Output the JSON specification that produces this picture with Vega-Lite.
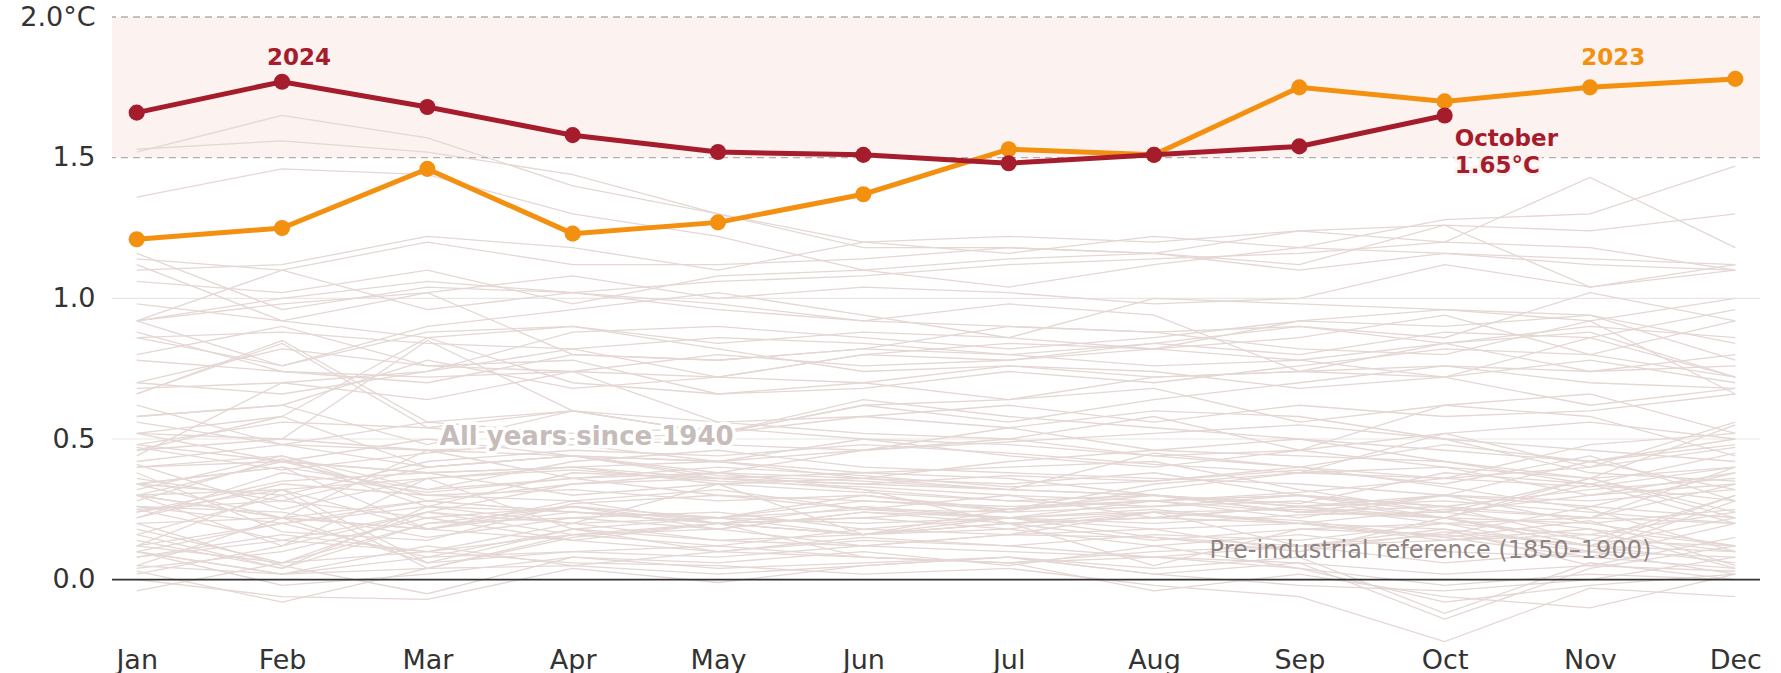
{
"$schema": "https://vega.github.io/schema/vega-lite/v6.json",
"width": 1648, "height": 633,
"autosize": "none",
"padding": {"left": 112, "top": 17, "right": 21, "bottom": 23},
"background": "white",
"config": {"view": {"stroke": null}, "font": "DejaVu Sans"},
"datasets": {
"bg": [
{"yr":1940,"m":1,"t":0.22},{"yr":1940,"m":2,"t":0.38},{"yr":1940,"m":3,"t":0.31},{"yr":1940,"m":4,"t":0.36},{"yr":1940,"m":5,"t":0.40},{"yr":1940,"m":6,"t":0.37},{"yr":1940,"m":7,"t":0.33},{"yr":1940,"m":8,"t":0.35},{"yr":1940,"m":9,"t":0.39},{"yr":1940,"m":10,"t":0.34},{"yr":1940,"m":11,"t":0.44},{"yr":1940,"m":12,"t":0.28},
{"yr":1941,"m":1,"t":0.34},{"yr":1941,"m":2,"t":0.30},{"yr":1941,"m":3,"t":0.42},{"yr":1941,"m":4,"t":0.46},{"yr":1941,"m":5,"t":0.44},{"yr":1941,"m":6,"t":0.48},{"yr":1941,"m":7,"t":0.45},{"yr":1941,"m":8,"t":0.41},{"yr":1941,"m":9,"t":0.38},{"yr":1941,"m":10,"t":0.52},{"yr":1941,"m":11,"t":0.40},{"yr":1941,"m":12,"t":0.47},
{"yr":1942,"m":1,"t":0.41},{"yr":1942,"m":2,"t":0.25},{"yr":1942,"m":3,"t":0.36},{"yr":1942,"m":4,"t":0.39},{"yr":1942,"m":5,"t":0.35},{"yr":1942,"m":6,"t":0.33},{"yr":1942,"m":7,"t":0.30},{"yr":1942,"m":8,"t":0.28},{"yr":1942,"m":9,"t":0.31},{"yr":1942,"m":10,"t":0.36},{"yr":1942,"m":11,"t":0.33},{"yr":1942,"m":12,"t":0.40},
{"yr":1943,"m":1,"t":0.28},{"yr":1943,"m":2,"t":0.43},{"yr":1943,"m":3,"t":0.26},{"yr":1943,"m":4,"t":0.38},{"yr":1943,"m":5,"t":0.36},{"yr":1943,"m":6,"t":0.34},{"yr":1943,"m":7,"t":0.37},{"yr":1943,"m":8,"t":0.35},{"yr":1943,"m":9,"t":0.40},{"yr":1943,"m":10,"t":0.48},{"yr":1943,"m":11,"t":0.42},{"yr":1943,"m":12,"t":0.50},
{"yr":1944,"m":1,"t":0.47},{"yr":1944,"m":2,"t":0.39},{"yr":1944,"m":3,"t":0.45},{"yr":1944,"m":4,"t":0.50},{"yr":1944,"m":5,"t":0.48},{"yr":1944,"m":6,"t":0.46},{"yr":1944,"m":7,"t":0.49},{"yr":1944,"m":8,"t":0.52},{"yr":1944,"m":9,"t":0.55},{"yr":1944,"m":10,"t":0.50},{"yr":1944,"m":11,"t":0.38},{"yr":1944,"m":12,"t":0.35},
{"yr":1945,"m":1,"t":0.36},{"yr":1945,"m":2,"t":0.28},{"yr":1945,"m":3,"t":0.40},{"yr":1945,"m":4,"t":0.44},{"yr":1945,"m":5,"t":0.37},{"yr":1945,"m":6,"t":0.35},{"yr":1945,"m":7,"t":0.32},{"yr":1945,"m":8,"t":0.45},{"yr":1945,"m":9,"t":0.40},{"yr":1945,"m":10,"t":0.33},{"yr":1945,"m":11,"t":0.25},{"yr":1945,"m":12,"t":0.10},
{"yr":1946,"m":1,"t":0.30},{"yr":1946,"m":2,"t":0.22},{"yr":1946,"m":3,"t":0.18},{"yr":1946,"m":4,"t":0.28},{"yr":1946,"m":5,"t":0.20},{"yr":1946,"m":6,"t":0.16},{"yr":1946,"m":7,"t":0.22},{"yr":1946,"m":8,"t":0.18},{"yr":1946,"m":9,"t":0.20},{"yr":1946,"m":10,"t":0.15},{"yr":1946,"m":11,"t":0.21},{"yr":1946,"m":12,"t":0.05},
{"yr":1947,"m":1,"t":0.12},{"yr":1947,"m":2,"t":0.20},{"yr":1947,"m":3,"t":0.26},{"yr":1947,"m":4,"t":0.24},{"yr":1947,"m":5,"t":0.22},{"yr":1947,"m":6,"t":0.28},{"yr":1947,"m":7,"t":0.25},{"yr":1947,"m":8,"t":0.30},{"yr":1947,"m":9,"t":0.27},{"yr":1947,"m":10,"t":0.38},{"yr":1947,"m":11,"t":0.34},{"yr":1947,"m":12,"t":0.20},
{"yr":1948,"m":1,"t":0.38},{"yr":1948,"m":2,"t":0.17},{"yr":1948,"m":3,"t":0.14},{"yr":1948,"m":4,"t":0.27},{"yr":1948,"m":5,"t":0.30},{"yr":1948,"m":6,"t":0.25},{"yr":1948,"m":7,"t":0.22},{"yr":1948,"m":8,"t":0.20},{"yr":1948,"m":9,"t":0.23},{"yr":1948,"m":10,"t":0.24},{"yr":1948,"m":11,"t":0.18},{"yr":1948,"m":12,"t":0.12},
{"yr":1949,"m":1,"t":0.26},{"yr":1949,"m":2,"t":0.24},{"yr":1949,"m":3,"t":0.15},{"yr":1949,"m":4,"t":0.22},{"yr":1949,"m":5,"t":0.18},{"yr":1949,"m":6,"t":0.12},{"yr":1949,"m":7,"t":0.16},{"yr":1949,"m":8,"t":0.15},{"yr":1949,"m":9,"t":0.10},{"yr":1949,"m":10,"t":0.17},{"yr":1949,"m":11,"t":0.12},{"yr":1949,"m":12,"t":0.06},
{"yr":1950,"m":1,"t":0.04},{"yr":1950,"m":2,"t":0.10},{"yr":1950,"m":3,"t":0.22},{"yr":1950,"m":4,"t":0.14},{"yr":1950,"m":5,"t":0.10},{"yr":1950,"m":6,"t":0.15},{"yr":1950,"m":7,"t":0.12},{"yr":1950,"m":8,"t":0.08},{"yr":1950,"m":9,"t":0.06},{"yr":1950,"m":10,"t":0.02},{"yr":1950,"m":11,"t":0.05},{"yr":1950,"m":12,"t":0.03},
{"yr":1951,"m":1,"t":0.10},{"yr":1951,"m":2,"t":0.02},{"yr":1951,"m":3,"t":0.04},{"yr":1951,"m":4,"t":0.16},{"yr":1951,"m":5,"t":0.20},{"yr":1951,"m":6,"t":0.22},{"yr":1951,"m":7,"t":0.25},{"yr":1951,"m":8,"t":0.28},{"yr":1951,"m":9,"t":0.30},{"yr":1951,"m":10,"t":0.26},{"yr":1951,"m":11,"t":0.22},{"yr":1951,"m":12,"t":0.34},
{"yr":1952,"m":1,"t":0.30},{"yr":1952,"m":2,"t":0.32},{"yr":1952,"m":3,"t":0.18},{"yr":1952,"m":4,"t":0.24},{"yr":1952,"m":5,"t":0.22},{"yr":1952,"m":6,"t":0.20},{"yr":1952,"m":7,"t":0.22},{"yr":1952,"m":8,"t":0.24},{"yr":1952,"m":9,"t":0.21},{"yr":1952,"m":10,"t":0.15},{"yr":1952,"m":11,"t":0.08},{"yr":1952,"m":12,"t":0.20},
{"yr":1953,"m":1,"t":0.24},{"yr":1953,"m":2,"t":0.35},{"yr":1953,"m":3,"t":0.38},{"yr":1953,"m":4,"t":0.30},{"yr":1953,"m":5,"t":0.34},{"yr":1953,"m":6,"t":0.31},{"yr":1953,"m":7,"t":0.28},{"yr":1953,"m":8,"t":0.30},{"yr":1953,"m":9,"t":0.26},{"yr":1953,"m":10,"t":0.30},{"yr":1953,"m":11,"t":0.20},{"yr":1953,"m":12,"t":0.25},
{"yr":1954,"m":1,"t":0.05},{"yr":1954,"m":2,"t":0.22},{"yr":1954,"m":3,"t":0.06},{"yr":1954,"m":4,"t":0.10},{"yr":1954,"m":5,"t":0.08},{"yr":1954,"m":6,"t":0.12},{"yr":1954,"m":7,"t":0.10},{"yr":1954,"m":8,"t":0.08},{"yr":1954,"m":9,"t":0.12},{"yr":1954,"m":10,"t":0.14},{"yr":1954,"m":11,"t":0.18},{"yr":1954,"m":12,"t":0.04},
{"yr":1955,"m":1,"t":0.20},{"yr":1955,"m":2,"t":0.05},{"yr":1955,"m":3,"t":-0.05},{"yr":1955,"m":4,"t":0.08},{"yr":1955,"m":5,"t":0.06},{"yr":1955,"m":6,"t":0.10},{"yr":1955,"m":7,"t":0.05},{"yr":1955,"m":8,"t":0.12},{"yr":1955,"m":9,"t":0.04},{"yr":1955,"m":10,"t":-0.08},{"yr":1955,"m":11,"t":-0.02},{"yr":1955,"m":12,"t":0.02},
{"yr":1956,"m":1,"t":0.03},{"yr":1956,"m":2,"t":-0.08},{"yr":1956,"m":3,"t":0.04},{"yr":1956,"m":4,"t":0.05},{"yr":1956,"m":5,"t":0.02},{"yr":1956,"m":6,"t":0.05},{"yr":1956,"m":7,"t":0.08},{"yr":1956,"m":8,"t":0.02},{"yr":1956,"m":9,"t":-0.02},{"yr":1956,"m":10,"t":-0.04},{"yr":1956,"m":11,"t":0.00},{"yr":1956,"m":12,"t":0.08},
{"yr":1957,"m":1,"t":0.08},{"yr":1957,"m":2,"t":0.16},{"yr":1957,"m":3,"t":0.10},{"yr":1957,"m":4,"t":0.20},{"yr":1957,"m":5,"t":0.22},{"yr":1957,"m":6,"t":0.30},{"yr":1957,"m":7,"t":0.25},{"yr":1957,"m":8,"t":0.28},{"yr":1957,"m":9,"t":0.30},{"yr":1957,"m":10,"t":0.26},{"yr":1957,"m":11,"t":0.32},{"yr":1957,"m":12,"t":0.36},
{"yr":1958,"m":1,"t":0.48},{"yr":1958,"m":2,"t":0.42},{"yr":1958,"m":3,"t":0.30},{"yr":1958,"m":4,"t":0.28},{"yr":1958,"m":5,"t":0.32},{"yr":1958,"m":6,"t":0.25},{"yr":1958,"m":7,"t":0.30},{"yr":1958,"m":8,"t":0.22},{"yr":1958,"m":9,"t":0.20},{"yr":1958,"m":10,"t":0.25},{"yr":1958,"m":11,"t":0.22},{"yr":1958,"m":12,"t":0.20},
{"yr":1959,"m":1,"t":0.26},{"yr":1959,"m":2,"t":0.20},{"yr":1959,"m":3,"t":0.28},{"yr":1959,"m":4,"t":0.24},{"yr":1959,"m":5,"t":0.20},{"yr":1959,"m":6,"t":0.26},{"yr":1959,"m":7,"t":0.22},{"yr":1959,"m":8,"t":0.25},{"yr":1959,"m":9,"t":0.20},{"yr":1959,"m":10,"t":0.14},{"yr":1959,"m":11,"t":0.16},{"yr":1959,"m":12,"t":0.24},
{"yr":1960,"m":1,"t":0.16},{"yr":1960,"m":2,"t":0.30},{"yr":1960,"m":3,"t":0.04},{"yr":1960,"m":4,"t":0.15},{"yr":1960,"m":5,"t":0.20},{"yr":1960,"m":6,"t":0.22},{"yr":1960,"m":7,"t":0.18},{"yr":1960,"m":8,"t":0.24},{"yr":1960,"m":9,"t":0.25},{"yr":1960,"m":10,"t":0.22},{"yr":1960,"m":11,"t":0.12},{"yr":1960,"m":12,"t":0.30},
{"yr":1961,"m":1,"t":0.22},{"yr":1961,"m":2,"t":0.34},{"yr":1961,"m":3,"t":0.30},{"yr":1961,"m":4,"t":0.32},{"yr":1961,"m":5,"t":0.28},{"yr":1961,"m":6,"t":0.30},{"yr":1961,"m":7,"t":0.24},{"yr":1961,"m":8,"t":0.26},{"yr":1961,"m":9,"t":0.28},{"yr":1961,"m":10,"t":0.22},{"yr":1961,"m":11,"t":0.20},{"yr":1961,"m":12,"t":0.12},
{"yr":1962,"m":1,"t":0.25},{"yr":1962,"m":2,"t":0.28},{"yr":1962,"m":3,"t":0.22},{"yr":1962,"m":4,"t":0.26},{"yr":1962,"m":5,"t":0.18},{"yr":1962,"m":6,"t":0.24},{"yr":1962,"m":7,"t":0.20},{"yr":1962,"m":8,"t":0.22},{"yr":1962,"m":9,"t":0.26},{"yr":1962,"m":10,"t":0.28},{"yr":1962,"m":11,"t":0.24},{"yr":1962,"m":12,"t":0.20},
{"yr":1963,"m":1,"t":0.12},{"yr":1963,"m":2,"t":0.32},{"yr":1963,"m":3,"t":0.06},{"yr":1963,"m":4,"t":0.18},{"yr":1963,"m":5,"t":0.14},{"yr":1963,"m":6,"t":0.16},{"yr":1963,"m":7,"t":0.25},{"yr":1963,"m":8,"t":0.34},{"yr":1963,"m":9,"t":0.38},{"yr":1963,"m":10,"t":0.40},{"yr":1963,"m":11,"t":0.36},{"yr":1963,"m":12,"t":0.22},
{"yr":1964,"m":1,"t":0.25},{"yr":1964,"m":2,"t":0.14},{"yr":1964,"m":3,"t":0.10},{"yr":1964,"m":4,"t":0.06},{"yr":1964,"m":5,"t":0.05},{"yr":1964,"m":6,"t":0.02},{"yr":1964,"m":7,"t":0.04},{"yr":1964,"m":8,"t":-0.02},{"yr":1964,"m":9,"t":-0.06},{"yr":1964,"m":10,"t":-0.22},{"yr":1964,"m":11,"t":-0.03},{"yr":1964,"m":12,"t":-0.06},
{"yr":1965,"m":1,"t":0.10},{"yr":1965,"m":2,"t":0.02},{"yr":1965,"m":3,"t":0.12},{"yr":1965,"m":4,"t":0.05},{"yr":1965,"m":5,"t":0.10},{"yr":1965,"m":6,"t":0.08},{"yr":1965,"m":7,"t":0.06},{"yr":1965,"m":8,"t":0.10},{"yr":1965,"m":9,"t":0.12},{"yr":1965,"m":10,"t":0.18},{"yr":1965,"m":11,"t":0.05},{"yr":1965,"m":12,"t":0.15},
{"yr":1966,"m":1,"t":0.08},{"yr":1966,"m":2,"t":0.14},{"yr":1966,"m":3,"t":0.24},{"yr":1966,"m":4,"t":0.16},{"yr":1966,"m":5,"t":0.12},{"yr":1966,"m":6,"t":0.18},{"yr":1966,"m":7,"t":0.22},{"yr":1966,"m":8,"t":0.15},{"yr":1966,"m":9,"t":0.12},{"yr":1966,"m":10,"t":0.06},{"yr":1966,"m":11,"t":0.10},{"yr":1966,"m":12,"t":0.08},
{"yr":1967,"m":1,"t":0.14},{"yr":1967,"m":2,"t":0.04},{"yr":1967,"m":3,"t":0.26},{"yr":1967,"m":4,"t":0.20},{"yr":1967,"m":5,"t":0.14},{"yr":1967,"m":6,"t":0.12},{"yr":1967,"m":7,"t":0.16},{"yr":1967,"m":8,"t":0.18},{"yr":1967,"m":9,"t":0.10},{"yr":1967,"m":10,"t":0.22},{"yr":1967,"m":11,"t":0.14},{"yr":1967,"m":12,"t":0.12},
{"yr":1968,"m":1,"t":0.02},{"yr":1968,"m":2,"t":0.12},{"yr":1968,"m":3,"t":0.36},{"yr":1968,"m":4,"t":0.18},{"yr":1968,"m":5,"t":0.10},{"yr":1968,"m":6,"t":0.14},{"yr":1968,"m":7,"t":0.12},{"yr":1968,"m":8,"t":0.16},{"yr":1968,"m":9,"t":0.14},{"yr":1968,"m":10,"t":0.20},{"yr":1968,"m":11,"t":0.16},{"yr":1968,"m":12,"t":0.10},
{"yr":1969,"m":1,"t":0.12},{"yr":1969,"m":2,"t":0.06},{"yr":1969,"m":3,"t":0.24},{"yr":1969,"m":4,"t":0.34},{"yr":1969,"m":5,"t":0.36},{"yr":1969,"m":6,"t":0.32},{"yr":1969,"m":7,"t":0.28},{"yr":1969,"m":8,"t":0.26},{"yr":1969,"m":9,"t":0.30},{"yr":1969,"m":10,"t":0.24},{"yr":1969,"m":11,"t":0.36},{"yr":1969,"m":12,"t":0.40},
{"yr":1970,"m":1,"t":0.34},{"yr":1970,"m":2,"t":0.40},{"yr":1970,"m":3,"t":0.18},{"yr":1970,"m":4,"t":0.26},{"yr":1970,"m":5,"t":0.20},{"yr":1970,"m":6,"t":0.16},{"yr":1970,"m":7,"t":0.18},{"yr":1970,"m":8,"t":0.12},{"yr":1970,"m":9,"t":0.16},{"yr":1970,"m":10,"t":0.10},{"yr":1970,"m":11,"t":0.08},{"yr":1970,"m":12,"t":0.04},
{"yr":1971,"m":1,"t":0.10},{"yr":1971,"m":2,"t":-0.02},{"yr":1971,"m":3,"t":0.02},{"yr":1971,"m":4,"t":0.08},{"yr":1971,"m":5,"t":0.04},{"yr":1971,"m":6,"t":0.06},{"yr":1971,"m":7,"t":0.08},{"yr":1971,"m":8,"t":0.04},{"yr":1971,"m":9,"t":0.08},{"yr":1971,"m":10,"t":-0.12},{"yr":1971,"m":11,"t":0.06},{"yr":1971,"m":12,"t":0.00},
{"yr":1972,"m":1,"t":-0.04},{"yr":1972,"m":2,"t":0.06},{"yr":1972,"m":3,"t":0.10},{"yr":1972,"m":4,"t":0.16},{"yr":1972,"m":5,"t":0.18},{"yr":1972,"m":6,"t":0.24},{"yr":1972,"m":7,"t":0.22},{"yr":1972,"m":8,"t":0.28},{"yr":1972,"m":9,"t":0.22},{"yr":1972,"m":10,"t":0.30},{"yr":1972,"m":11,"t":0.26},{"yr":1972,"m":12,"t":0.38},
{"yr":1973,"m":1,"t":0.42},{"yr":1973,"m":2,"t":0.48},{"yr":1973,"m":3,"t":0.40},{"yr":1973,"m":4,"t":0.44},{"yr":1973,"m":5,"t":0.38},{"yr":1973,"m":6,"t":0.36},{"yr":1973,"m":7,"t":0.32},{"yr":1973,"m":8,"t":0.30},{"yr":1973,"m":9,"t":0.24},{"yr":1973,"m":10,"t":0.22},{"yr":1973,"m":11,"t":0.12},{"yr":1973,"m":12,"t":0.10},
{"yr":1974,"m":1,"t":0.05},{"yr":1974,"m":2,"t":0.02},{"yr":1974,"m":3,"t":0.08},{"yr":1974,"m":4,"t":0.10},{"yr":1974,"m":5,"t":0.12},{"yr":1974,"m":6,"t":0.08},{"yr":1974,"m":7,"t":0.06},{"yr":1974,"m":8,"t":0.08},{"yr":1974,"m":9,"t":0.04},{"yr":1974,"m":10,"t":-0.02},{"yr":1974,"m":11,"t":0.02},{"yr":1974,"m":12,"t":0.00},
{"yr":1975,"m":1,"t":0.20},{"yr":1975,"m":2,"t":0.22},{"yr":1975,"m":3,"t":0.18},{"yr":1975,"m":4,"t":0.14},{"yr":1975,"m":5,"t":0.20},{"yr":1975,"m":6,"t":0.08},{"yr":1975,"m":7,"t":0.06},{"yr":1975,"m":8,"t":-0.04},{"yr":1975,"m":9,"t":0.02},{"yr":1975,"m":10,"t":-0.06},{"yr":1975,"m":11,"t":-0.10},{"yr":1975,"m":12,"t":0.02},
{"yr":1976,"m":1,"t":0.00},{"yr":1976,"m":2,"t":-0.06},{"yr":1976,"m":3,"t":-0.07},{"yr":1976,"m":4,"t":0.04},{"yr":1976,"m":5,"t":-0.01},{"yr":1976,"m":6,"t":0.05},{"yr":1976,"m":7,"t":0.08},{"yr":1976,"m":8,"t":0.02},{"yr":1976,"m":9,"t":0.06},{"yr":1976,"m":10,"t":-0.14},{"yr":1976,"m":11,"t":0.04},{"yr":1976,"m":12,"t":0.12},
{"yr":1977,"m":1,"t":0.24},{"yr":1977,"m":2,"t":0.32},{"yr":1977,"m":3,"t":0.36},{"yr":1977,"m":4,"t":0.40},{"yr":1977,"m":5,"t":0.42},{"yr":1977,"m":6,"t":0.38},{"yr":1977,"m":7,"t":0.36},{"yr":1977,"m":8,"t":0.30},{"yr":1977,"m":9,"t":0.26},{"yr":1977,"m":10,"t":0.22},{"yr":1977,"m":11,"t":0.34},{"yr":1977,"m":12,"t":0.28},
{"yr":1978,"m":1,"t":0.30},{"yr":1978,"m":2,"t":0.22},{"yr":1978,"m":3,"t":0.28},{"yr":1978,"m":4,"t":0.24},{"yr":1978,"m":5,"t":0.20},{"yr":1978,"m":6,"t":0.16},{"yr":1978,"m":7,"t":0.20},{"yr":1978,"m":8,"t":0.05},{"yr":1978,"m":9,"t":0.18},{"yr":1978,"m":10,"t":0.16},{"yr":1978,"m":11,"t":0.26},{"yr":1978,"m":12,"t":0.22},
{"yr":1979,"m":1,"t":0.16},{"yr":1979,"m":2,"t":0.04},{"yr":1979,"m":3,"t":0.20},{"yr":1979,"m":4,"t":0.26},{"yr":1979,"m":5,"t":0.22},{"yr":1979,"m":6,"t":0.25},{"yr":1979,"m":7,"t":0.24},{"yr":1979,"m":8,"t":0.32},{"yr":1979,"m":9,"t":0.38},{"yr":1979,"m":10,"t":0.36},{"yr":1979,"m":11,"t":0.40},{"yr":1979,"m":12,"t":0.56},
{"yr":1980,"m":1,"t":0.40},{"yr":1980,"m":2,"t":0.44},{"yr":1980,"m":3,"t":0.32},{"yr":1980,"m":4,"t":0.42},{"yr":1980,"m":5,"t":0.46},{"yr":1980,"m":6,"t":0.40},{"yr":1980,"m":7,"t":0.38},{"yr":1980,"m":8,"t":0.36},{"yr":1980,"m":9,"t":0.34},{"yr":1980,"m":10,"t":0.30},{"yr":1980,"m":11,"t":0.42},{"yr":1980,"m":12,"t":0.32},
{"yr":1981,"m":1,"t":0.52},{"yr":1981,"m":2,"t":0.42},{"yr":1981,"m":3,"t":0.50},{"yr":1981,"m":4,"t":0.44},{"yr":1981,"m":5,"t":0.36},{"yr":1981,"m":6,"t":0.38},{"yr":1981,"m":7,"t":0.40},{"yr":1981,"m":8,"t":0.42},{"yr":1981,"m":9,"t":0.32},{"yr":1981,"m":10,"t":0.24},{"yr":1981,"m":11,"t":0.30},{"yr":1981,"m":12,"t":0.38},
{"yr":1982,"m":1,"t":0.10},{"yr":1982,"m":2,"t":0.20},{"yr":1982,"m":3,"t":0.08},{"yr":1982,"m":4,"t":0.18},{"yr":1982,"m":5,"t":0.22},{"yr":1982,"m":6,"t":0.16},{"yr":1982,"m":7,"t":0.20},{"yr":1982,"m":8,"t":0.14},{"yr":1982,"m":9,"t":0.18},{"yr":1982,"m":10,"t":0.20},{"yr":1982,"m":11,"t":0.22},{"yr":1982,"m":12,"t":0.40},
{"yr":1983,"m":1,"t":0.52},{"yr":1983,"m":2,"t":0.50},{"yr":1983,"m":3,"t":0.46},{"yr":1983,"m":4,"t":0.44},{"yr":1983,"m":5,"t":0.42},{"yr":1983,"m":6,"t":0.36},{"yr":1983,"m":7,"t":0.34},{"yr":1983,"m":8,"t":0.38},{"yr":1983,"m":9,"t":0.30},{"yr":1983,"m":10,"t":0.22},{"yr":1983,"m":11,"t":0.36},{"yr":1983,"m":12,"t":0.24},
{"yr":1984,"m":1,"t":0.30},{"yr":1984,"m":2,"t":0.12},{"yr":1984,"m":3,"t":0.24},{"yr":1984,"m":4,"t":0.20},{"yr":1984,"m":5,"t":0.34},{"yr":1984,"m":6,"t":0.16},{"yr":1984,"m":7,"t":0.20},{"yr":1984,"m":8,"t":0.22},{"yr":1984,"m":9,"t":0.26},{"yr":1984,"m":10,"t":0.20},{"yr":1984,"m":11,"t":0.10},{"yr":1984,"m":12,"t":0.02},
{"yr":1985,"m":1,"t":0.18},{"yr":1985,"m":2,"t":0.06},{"yr":1985,"m":3,"t":0.20},{"yr":1985,"m":4,"t":0.22},{"yr":1985,"m":5,"t":0.24},{"yr":1985,"m":6,"t":0.18},{"yr":1985,"m":7,"t":0.16},{"yr":1985,"m":8,"t":0.24},{"yr":1985,"m":9,"t":0.20},{"yr":1985,"m":10,"t":0.18},{"yr":1985,"m":11,"t":0.12},{"yr":1985,"m":12,"t":0.22},
{"yr":1986,"m":1,"t":0.34},{"yr":1986,"m":2,"t":0.40},{"yr":1986,"m":3,"t":0.32},{"yr":1986,"m":4,"t":0.36},{"yr":1986,"m":5,"t":0.30},{"yr":1986,"m":6,"t":0.28},{"yr":1986,"m":7,"t":0.26},{"yr":1986,"m":8,"t":0.28},{"yr":1986,"m":9,"t":0.24},{"yr":1986,"m":10,"t":0.30},{"yr":1986,"m":11,"t":0.28},{"yr":1986,"m":12,"t":0.32},
{"yr":1987,"m":1,"t":0.32},{"yr":1987,"m":2,"t":0.44},{"yr":1987,"m":3,"t":0.28},{"yr":1987,"m":4,"t":0.34},{"yr":1987,"m":5,"t":0.38},{"yr":1987,"m":6,"t":0.46},{"yr":1987,"m":7,"t":0.54},{"yr":1987,"m":8,"t":0.46},{"yr":1987,"m":9,"t":0.50},{"yr":1987,"m":10,"t":0.42},{"yr":1987,"m":11,"t":0.36},{"yr":1987,"m":12,"t":0.55},
{"yr":1988,"m":1,"t":0.62},{"yr":1988,"m":2,"t":0.48},{"yr":1988,"m":3,"t":0.56},{"yr":1988,"m":4,"t":0.52},{"yr":1988,"m":5,"t":0.54},{"yr":1988,"m":6,"t":0.50},{"yr":1988,"m":7,"t":0.48},{"yr":1988,"m":8,"t":0.44},{"yr":1988,"m":9,"t":0.46},{"yr":1988,"m":10,"t":0.40},{"yr":1988,"m":11,"t":0.30},{"yr":1988,"m":12,"t":0.34},
{"yr":1989,"m":1,"t":0.30},{"yr":1989,"m":2,"t":0.42},{"yr":1989,"m":3,"t":0.38},{"yr":1989,"m":4,"t":0.40},{"yr":1989,"m":5,"t":0.34},{"yr":1989,"m":6,"t":0.36},{"yr":1989,"m":7,"t":0.42},{"yr":1989,"m":8,"t":0.46},{"yr":1989,"m":9,"t":0.44},{"yr":1989,"m":10,"t":0.42},{"yr":1989,"m":11,"t":0.34},{"yr":1989,"m":12,"t":0.45},
{"yr":1990,"m":1,"t":0.46},{"yr":1990,"m":2,"t":0.50},{"yr":1990,"m":3,"t":0.85},{"yr":1990,"m":4,"t":0.60},{"yr":1990,"m":5,"t":0.56},{"yr":1990,"m":6,"t":0.52},{"yr":1990,"m":7,"t":0.50},{"yr":1990,"m":8,"t":0.58},{"yr":1990,"m":9,"t":0.46},{"yr":1990,"m":10,"t":0.62},{"yr":1990,"m":11,"t":0.66},{"yr":1990,"m":12,"t":0.52},
{"yr":1991,"m":1,"t":0.58},{"yr":1991,"m":2,"t":0.62},{"yr":1991,"m":3,"t":0.48},{"yr":1991,"m":4,"t":0.60},{"yr":1991,"m":5,"t":0.52},{"yr":1991,"m":6,"t":0.64},{"yr":1991,"m":7,"t":0.58},{"yr":1991,"m":8,"t":0.54},{"yr":1991,"m":9,"t":0.50},{"yr":1991,"m":10,"t":0.46},{"yr":1991,"m":11,"t":0.42},{"yr":1991,"m":12,"t":0.48},
{"yr":1992,"m":1,"t":0.56},{"yr":1992,"m":2,"t":0.48},{"yr":1992,"m":3,"t":0.46},{"yr":1992,"m":4,"t":0.36},{"yr":1992,"m":5,"t":0.38},{"yr":1992,"m":6,"t":0.32},{"yr":1992,"m":7,"t":0.20},{"yr":1992,"m":8,"t":0.24},{"yr":1992,"m":9,"t":0.12},{"yr":1992,"m":10,"t":0.16},{"yr":1992,"m":11,"t":0.10},{"yr":1992,"m":12,"t":0.28},
{"yr":1993,"m":1,"t":0.40},{"yr":1993,"m":2,"t":0.42},{"yr":1993,"m":3,"t":0.38},{"yr":1993,"m":4,"t":0.40},{"yr":1993,"m":5,"t":0.36},{"yr":1993,"m":6,"t":0.34},{"yr":1993,"m":7,"t":0.32},{"yr":1993,"m":8,"t":0.30},{"yr":1993,"m":9,"t":0.24},{"yr":1993,"m":10,"t":0.26},{"yr":1993,"m":11,"t":0.14},{"yr":1993,"m":12,"t":0.30},
{"yr":1994,"m":1,"t":0.34},{"yr":1994,"m":2,"t":0.22},{"yr":1994,"m":3,"t":0.46},{"yr":1994,"m":4,"t":0.48},{"yr":1994,"m":5,"t":0.42},{"yr":1994,"m":6,"t":0.50},{"yr":1994,"m":7,"t":0.44},{"yr":1994,"m":8,"t":0.40},{"yr":1994,"m":9,"t":0.46},{"yr":1994,"m":10,"t":0.52},{"yr":1994,"m":11,"t":0.56},{"yr":1994,"m":12,"t":0.50},
{"yr":1995,"m":1,"t":0.66},{"yr":1995,"m":2,"t":0.85},{"yr":1995,"m":3,"t":0.56},{"yr":1995,"m":4,"t":0.60},{"yr":1995,"m":5,"t":0.52},{"yr":1995,"m":6,"t":0.62},{"yr":1995,"m":7,"t":0.64},{"yr":1995,"m":8,"t":0.68},{"yr":1995,"m":9,"t":0.56},{"yr":1995,"m":10,"t":0.62},{"yr":1995,"m":11,"t":0.58},{"yr":1995,"m":12,"t":0.44},
{"yr":1996,"m":1,"t":0.46},{"yr":1996,"m":2,"t":0.58},{"yr":1996,"m":3,"t":0.40},{"yr":1996,"m":4,"t":0.44},{"yr":1996,"m":5,"t":0.42},{"yr":1996,"m":6,"t":0.46},{"yr":1996,"m":7,"t":0.50},{"yr":1996,"m":8,"t":0.44},{"yr":1996,"m":9,"t":0.40},{"yr":1996,"m":10,"t":0.36},{"yr":1996,"m":11,"t":0.48},{"yr":1996,"m":12,"t":0.52},
{"yr":1997,"m":1,"t":0.48},{"yr":1997,"m":2,"t":0.56},{"yr":1997,"m":3,"t":0.54},{"yr":1997,"m":4,"t":0.50},{"yr":1997,"m":5,"t":0.52},{"yr":1997,"m":6,"t":0.62},{"yr":1997,"m":7,"t":0.56},{"yr":1997,"m":8,"t":0.64},{"yr":1997,"m":9,"t":0.70},{"yr":1997,"m":10,"t":0.76},{"yr":1997,"m":11,"t":0.74},{"yr":1997,"m":12,"t":0.80},
{"yr":1998,"m":1,"t":0.92},{"yr":1998,"m":2,"t":1.10},{"yr":1998,"m":3,"t":0.96},{"yr":1998,"m":4,"t":1.02},{"yr":1998,"m":5,"t":0.96},{"yr":1998,"m":6,"t":0.92},{"yr":1998,"m":7,"t":0.98},{"yr":1998,"m":8,"t":0.94},{"yr":1998,"m":9,"t":0.74},{"yr":1998,"m":10,"t":0.72},{"yr":1998,"m":11,"t":0.62},{"yr":1998,"m":12,"t":0.68},
{"yr":1999,"m":1,"t":0.66},{"yr":1999,"m":2,"t":0.84},{"yr":1999,"m":3,"t":0.54},{"yr":1999,"m":4,"t":0.60},{"yr":1999,"m":5,"t":0.52},{"yr":1999,"m":6,"t":0.58},{"yr":1999,"m":7,"t":0.62},{"yr":1999,"m":8,"t":0.56},{"yr":1999,"m":9,"t":0.62},{"yr":1999,"m":10,"t":0.58},{"yr":1999,"m":11,"t":0.60},{"yr":1999,"m":12,"t":0.66},
{"yr":2000,"m":1,"t":0.44},{"yr":2000,"m":2,"t":0.70},{"yr":2000,"m":3,"t":0.64},{"yr":2000,"m":4,"t":0.74},{"yr":2000,"m":5,"t":0.56},{"yr":2000,"m":6,"t":0.58},{"yr":2000,"m":7,"t":0.54},{"yr":2000,"m":8,"t":0.60},{"yr":2000,"m":9,"t":0.58},{"yr":2000,"m":10,"t":0.50},{"yr":2000,"m":11,"t":0.46},{"yr":2000,"m":12,"t":0.42},
{"yr":2001,"m":1,"t":0.58},{"yr":2001,"m":2,"t":0.62},{"yr":2001,"m":3,"t":0.78},{"yr":2001,"m":4,"t":0.68},{"yr":2001,"m":5,"t":0.72},{"yr":2001,"m":6,"t":0.70},{"yr":2001,"m":7,"t":0.76},{"yr":2001,"m":8,"t":0.74},{"yr":2001,"m":9,"t":0.68},{"yr":2001,"m":10,"t":0.72},{"yr":2001,"m":11,"t":0.86},{"yr":2001,"m":12,"t":0.72},
{"yr":2002,"m":1,"t":0.92},{"yr":2002,"m":2,"t":0.98},{"yr":2002,"m":3,"t":1.02},{"yr":2002,"m":4,"t":0.80},{"yr":2002,"m":5,"t":0.78},{"yr":2002,"m":6,"t":0.82},{"yr":2002,"m":7,"t":0.80},{"yr":2002,"m":8,"t":0.76},{"yr":2002,"m":9,"t":0.78},{"yr":2002,"m":10,"t":0.72},{"yr":2002,"m":11,"t":0.78},{"yr":2002,"m":12,"t":0.70},
{"yr":2003,"m":1,"t":0.88},{"yr":2003,"m":2,"t":0.74},{"yr":2003,"m":3,"t":0.72},{"yr":2003,"m":4,"t":0.74},{"yr":2003,"m":5,"t":0.80},{"yr":2003,"m":6,"t":0.76},{"yr":2003,"m":7,"t":0.78},{"yr":2003,"m":8,"t":0.82},{"yr":2003,"m":9,"t":0.86},{"yr":2003,"m":10,"t":0.94},{"yr":2003,"m":11,"t":0.80},{"yr":2003,"m":12,"t":0.92},
{"yr":2004,"m":1,"t":0.80},{"yr":2004,"m":2,"t":0.90},{"yr":2004,"m":3,"t":0.76},{"yr":2004,"m":4,"t":0.78},{"yr":2004,"m":5,"t":0.66},{"yr":2004,"m":6,"t":0.70},{"yr":2004,"m":7,"t":0.64},{"yr":2004,"m":8,"t":0.72},{"yr":2004,"m":9,"t":0.74},{"yr":2004,"m":10,"t":0.84},{"yr":2004,"m":11,"t":0.88},{"yr":2004,"m":12,"t":0.72},
{"yr":2005,"m":1,"t":0.86},{"yr":2005,"m":2,"t":0.76},{"yr":2005,"m":3,"t":0.88},{"yr":2005,"m":4,"t":0.90},{"yr":2005,"m":5,"t":0.84},{"yr":2005,"m":6,"t":0.88},{"yr":2005,"m":7,"t":0.86},{"yr":2005,"m":8,"t":0.82},{"yr":2005,"m":9,"t":0.92},{"yr":2005,"m":10,"t":0.90},{"yr":2005,"m":11,"t":0.94},{"yr":2005,"m":12,"t":0.84},
{"yr":2006,"m":1,"t":0.70},{"yr":2006,"m":2,"t":0.82},{"yr":2006,"m":3,"t":0.76},{"yr":2006,"m":4,"t":0.74},{"yr":2006,"m":5,"t":0.72},{"yr":2006,"m":6,"t":0.80},{"yr":2006,"m":7,"t":0.78},{"yr":2006,"m":8,"t":0.84},{"yr":2006,"m":9,"t":0.80},{"yr":2006,"m":10,"t":0.88},{"yr":2006,"m":11,"t":0.86},{"yr":2006,"m":12,"t":0.96},
{"yr":2007,"m":1,"t":1.12},{"yr":2007,"m":2,"t":0.92},{"yr":2007,"m":3,"t":0.86},{"yr":2007,"m":4,"t":0.90},{"yr":2007,"m":5,"t":0.82},{"yr":2007,"m":6,"t":0.74},{"yr":2007,"m":7,"t":0.76},{"yr":2007,"m":8,"t":0.72},{"yr":2007,"m":9,"t":0.74},{"yr":2007,"m":10,"t":0.76},{"yr":2007,"m":11,"t":0.70},{"yr":2007,"m":12,"t":0.68},
{"yr":2008,"m":1,"t":0.52},{"yr":2008,"m":2,"t":0.58},{"yr":2008,"m":3,"t":0.86},{"yr":2008,"m":4,"t":0.70},{"yr":2008,"m":5,"t":0.66},{"yr":2008,"m":6,"t":0.68},{"yr":2008,"m":7,"t":0.74},{"yr":2008,"m":8,"t":0.70},{"yr":2008,"m":9,"t":0.76},{"yr":2008,"m":10,"t":0.82},{"yr":2008,"m":11,"t":0.80},{"yr":2008,"m":12,"t":0.72},
{"yr":2009,"m":1,"t":0.78},{"yr":2009,"m":2,"t":0.74},{"yr":2009,"m":3,"t":0.70},{"yr":2009,"m":4,"t":0.80},{"yr":2009,"m":5,"t":0.78},{"yr":2009,"m":6,"t":0.82},{"yr":2009,"m":7,"t":0.90},{"yr":2009,"m":8,"t":0.88},{"yr":2009,"m":9,"t":0.90},{"yr":2009,"m":10,"t":0.84},{"yr":2009,"m":11,"t":0.90},{"yr":2009,"m":12,"t":0.86},
{"yr":2010,"m":1,"t":0.92},{"yr":2010,"m":2,"t":1.00},{"yr":2010,"m":3,"t":1.06},{"yr":2010,"m":4,"t":1.02},{"yr":2010,"m":5,"t":0.98},{"yr":2010,"m":6,"t":0.92},{"yr":2010,"m":7,"t":0.90},{"yr":2010,"m":8,"t":0.88},{"yr":2010,"m":9,"t":0.82},{"yr":2010,"m":10,"t":0.80},{"yr":2010,"m":11,"t":0.92},{"yr":2010,"m":12,"t":0.66},
{"yr":2011,"m":1,"t":0.70},{"yr":2011,"m":2,"t":0.66},{"yr":2011,"m":3,"t":0.74},{"yr":2011,"m":4,"t":0.82},{"yr":2011,"m":5,"t":0.72},{"yr":2011,"m":6,"t":0.80},{"yr":2011,"m":7,"t":0.84},{"yr":2011,"m":8,"t":0.82},{"yr":2011,"m":9,"t":0.78},{"yr":2011,"m":10,"t":0.84},{"yr":2011,"m":11,"t":0.74},{"yr":2011,"m":12,"t":0.76},
{"yr":2012,"m":1,"t":0.68},{"yr":2012,"m":2,"t":0.70},{"yr":2012,"m":3,"t":0.74},{"yr":2012,"m":4,"t":0.88},{"yr":2012,"m":5,"t":0.90},{"yr":2012,"m":6,"t":0.86},{"yr":2012,"m":7,"t":0.82},{"yr":2012,"m":8,"t":0.86},{"yr":2012,"m":9,"t":0.92},{"yr":2012,"m":10,"t":0.96},{"yr":2012,"m":11,"t":0.94},{"yr":2012,"m":12,"t":0.78},
{"yr":2013,"m":1,"t":0.86},{"yr":2013,"m":2,"t":0.88},{"yr":2013,"m":3,"t":0.84},{"yr":2013,"m":4,"t":0.82},{"yr":2013,"m":5,"t":0.86},{"yr":2013,"m":6,"t":0.84},{"yr":2013,"m":7,"t":0.80},{"yr":2013,"m":8,"t":0.84},{"yr":2013,"m":9,"t":0.90},{"yr":2013,"m":10,"t":0.86},{"yr":2013,"m":11,"t":1.02},{"yr":2013,"m":12,"t":0.92},
{"yr":2014,"m":1,"t":0.92},{"yr":2014,"m":2,"t":0.76},{"yr":2014,"m":3,"t":0.90},{"yr":2014,"m":4,"t":0.96},{"yr":2014,"m":5,"t":1.02},{"yr":2014,"m":6,"t":0.94},{"yr":2014,"m":7,"t":0.86},{"yr":2014,"m":8,"t":1.00},{"yr":2014,"m":9,"t":0.98},{"yr":2014,"m":10,"t":0.96},{"yr":2014,"m":11,"t":0.92},{"yr":2014,"m":12,"t":1.00},
{"yr":2015,"m":1,"t":1.06},{"yr":2015,"m":2,"t":1.02},{"yr":2015,"m":3,"t":1.10},{"yr":2015,"m":4,"t":0.98},{"yr":2015,"m":5,"t":1.08},{"yr":2015,"m":6,"t":1.10},{"yr":2015,"m":7,"t":1.04},{"yr":2015,"m":8,"t":1.12},{"yr":2015,"m":9,"t":1.18},{"yr":2015,"m":10,"t":1.28},{"yr":2015,"m":11,"t":1.30},{"yr":2015,"m":12,"t":1.47},
{"yr":2016,"m":1,"t":1.52},{"yr":2016,"m":2,"t":1.65},{"yr":2016,"m":3,"t":1.57},{"yr":2016,"m":4,"t":1.40},{"yr":2016,"m":5,"t":1.30},{"yr":2016,"m":6,"t":1.20},{"yr":2016,"m":7,"t":1.16},{"yr":2016,"m":8,"t":1.22},{"yr":2016,"m":9,"t":1.18},{"yr":2016,"m":10,"t":1.16},{"yr":2016,"m":11,"t":1.14},{"yr":2016,"m":12,"t":1.12},
{"yr":2017,"m":1,"t":1.36},{"yr":2017,"m":2,"t":1.46},{"yr":2017,"m":3,"t":1.44},{"yr":2017,"m":4,"t":1.30},{"yr":2017,"m":5,"t":1.22},{"yr":2017,"m":6,"t":1.10},{"yr":2017,"m":7,"t":1.14},{"yr":2017,"m":8,"t":1.16},{"yr":2017,"m":9,"t":1.10},{"yr":2017,"m":10,"t":1.16},{"yr":2017,"m":11,"t":1.12},{"yr":2017,"m":12,"t":1.10},
{"yr":2018,"m":1,"t":0.98},{"yr":2018,"m":2,"t":0.92},{"yr":2018,"m":3,"t":1.02},{"yr":2018,"m":4,"t":1.08},{"yr":2018,"m":5,"t":1.00},{"yr":2018,"m":6,"t":1.04},{"yr":2018,"m":7,"t":1.02},{"yr":2018,"m":8,"t":0.98},{"yr":2018,"m":9,"t":1.00},{"yr":2018,"m":10,"t":1.12},{"yr":2018,"m":11,"t":1.04},{"yr":2018,"m":12,"t":1.10},
{"yr":2019,"m":1,"t":1.10},{"yr":2019,"m":2,"t":1.12},{"yr":2019,"m":3,"t":1.22},{"yr":2019,"m":4,"t":1.18},{"yr":2019,"m":5,"t":1.10},{"yr":2019,"m":6,"t":1.20},{"yr":2019,"m":7,"t":1.22},{"yr":2019,"m":8,"t":1.20},{"yr":2019,"m":9,"t":1.24},{"yr":2019,"m":10,"t":1.26},{"yr":2019,"m":11,"t":1.24},{"yr":2019,"m":12,"t":1.30},
{"yr":2020,"m":1,"t":1.53},{"yr":2020,"m":2,"t":1.56},{"yr":2020,"m":3,"t":1.52},{"yr":2020,"m":4,"t":1.44},{"yr":2020,"m":5,"t":1.30},{"yr":2020,"m":6,"t":1.18},{"yr":2020,"m":7,"t":1.18},{"yr":2020,"m":8,"t":1.16},{"yr":2020,"m":9,"t":1.24},{"yr":2020,"m":10,"t":1.20},{"yr":2020,"m":11,"t":1.43},{"yr":2020,"m":12,"t":1.18},
{"yr":2021,"m":1,"t":1.16},{"yr":2021,"m":2,"t":0.96},{"yr":2021,"m":3,"t":1.04},{"yr":2021,"m":4,"t":1.02},{"yr":2021,"m":5,"t":1.06},{"yr":2021,"m":6,"t":1.08},{"yr":2021,"m":7,"t":1.12},{"yr":2021,"m":8,"t":1.14},{"yr":2021,"m":9,"t":1.16},{"yr":2021,"m":10,"t":1.20},{"yr":2021,"m":11,"t":1.18},{"yr":2021,"m":12,"t":1.10},
{"yr":2022,"m":1,"t":1.14},{"yr":2022,"m":2,"t":1.10},{"yr":2022,"m":3,"t":1.20},{"yr":2022,"m":4,"t":1.12},{"yr":2022,"m":5,"t":1.12},{"yr":2022,"m":6,"t":1.14},{"yr":2022,"m":7,"t":1.18},{"yr":2022,"m":8,"t":1.16},{"yr":2022,"m":9,"t":1.12},{"yr":2022,"m":10,"t":1.26},{"yr":2022,"m":11,"t":1.04},{"yr":2022,"m":12,"t":1.12}
],
"y2023": [
{"m":1,"t":1.21},{"m":2,"t":1.25},{"m":3,"t":1.46},{"m":4,"t":1.23},{"m":5,"t":1.27},{"m":6,"t":1.37},{"m":7,"t":1.53},{"m":8,"t":1.51},{"m":9,"t":1.75},{"m":10,"t":1.70},{"m":11,"t":1.75},{"m":12,"t":1.78}
],
"y2024": [
{"m":1,"t":1.66},{"m":2,"t":1.77},{"m":3,"t":1.68},{"m":4,"t":1.58},{"m":5,"t":1.52},{"m":6,"t":1.51},{"m":7,"t":1.48},{"m":8,"t":1.51},{"m":9,"t":1.54},{"m":10,"t":1.65}
]
},
"layer": [
{
"data": {"values": [{"t": 1.5, "t2": 2.0}]},
"mark": {"type": "rect", "color": "#fcf2f0"},
"encoding": {
"y": {"field": "t", "type": "quantitative", "title": null},
"y2": {"field": "t2"}
}
},
{
"data": {"values": [{"t": 0.5}, {"t": 1.0}]},
"mark": {"type": "rule", "color": "#ebe7e6", "strokeWidth": 1.2},
"encoding": {"y": {"field": "t", "type": "quantitative", "title": null}}
},
{
"data": {"name": "bg"},
"mark": {"type": "line", "color": "#e4d7d4", "strokeWidth": 1.3},
"encoding": {
"x": {"field": "m", "type": "ordinal", "title": null, "scale": {"type": "point", "padding": 0.17},
"axis": {"domain": false, "ticks": false, "grid": false, "labelAngle": 0, "labelFontSize": 27, "labelColor": "#333333", "labelPadding": 18, "labelBaseline": "alphabetic", "labelFont": "DejaVu Sans",
"labelExpr": "['Jan','Feb','Mar','Apr','May','Jun','Jul','Aug','Sep','Oct','Nov','Dec'][datum.value-1]"}},
"y": {"field": "t", "type": "quantitative", "title": null, "scale": {"domain": [-0.25, 2], "nice": false, "zero": false},
"axis": {"grid": false, "domain": false, "ticks": false, "values": [0, 0.5, 1, 1.5, 2], "labelFontSize": 27, "labelColor": "#333333", "labelPadding": 17, "labelFont": "DejaVu Sans",
"labelExpr": "datum.value == 2 ? '2.0°C' : format(datum.value, '.1f')"}},
"detail": {"field": "yr", "type": "nominal"}
}
},
{
"data": {"values": [{"t": 1.5}, {"t": 2.0}]},
"mark": {"type": "rule", "color": "#b0b0b0", "strokeWidth": 1.3, "strokeDash": [7, 5]},
"encoding": {"y": {"field": "t", "type": "quantitative", "title": null}}
},
{
"data": {"values": [{"t": 0}]},
"mark": {"type": "rule", "color": "#333333", "strokeWidth": 1.6},
"encoding": {"y": {"field": "t", "type": "quantitative", "title": null}}
},
{
"data": {"values": [{"m": 4, "t": 0.478, "txt": "All years since 1940"}]},
"mark": {"type": "text", "align": "center", "baseline": "alphabetic", "dx": 14, "fontSize": 26, "fontWeight": "bold", "font": "DejaVu Sans", "fill": "white", "stroke": "white", "strokeWidth": 7, "strokeJoin": "round"},
"encoding": {"x": {"field": "m", "type": "ordinal", "title": null}, "y": {"field": "t", "type": "quantitative", "title": null}, "text": {"field": "txt"}}
},
{
"data": {"values": [{"m": 4, "t": 0.478, "txt": "All years since 1940"}]},
"mark": {"type": "text", "align": "center", "baseline": "alphabetic", "dx": 14, "fontSize": 26, "fontWeight": "bold", "font": "DejaVu Sans", "color": "#c6bcba"},
"encoding": {"x": {"field": "m", "type": "ordinal", "title": null}, "y": {"field": "t", "type": "quantitative", "title": null}, "text": {"field": "txt"}}
},
{
"data": {"values": [{"m": 12, "t": 0.076, "txt": "Pre-industrial reference (1850–1900)"}]},
"mark": {"type": "text", "align": "right", "baseline": "alphabetic", "dx": -84, "fontSize": 24, "font": "DejaVu Sans", "color": "#8f8381"},
"encoding": {"x": {"field": "m", "type": "ordinal", "title": null}, "y": {"field": "t", "type": "quantitative", "title": null}, "text": {"field": "txt"}}
},
{
"data": {"values": [{"m": 10, "t": 1.54, "txt": "October\n1.65°C"}]},
"mark": {"type": "text", "align": "left", "baseline": "alphabetic", "dx": 10, "fontSize": 23, "fontWeight": "bold", "font": "DejaVu Sans", "lineBreak": "\n", "lineHeight": 27, "fill": "#fcf2f0", "stroke": "#fcf2f0", "strokeWidth": 6, "strokeJoin": "round"},
"encoding": {"x": {"field": "m", "type": "ordinal", "title": null}, "y": {"field": "t", "type": "quantitative", "title": null}, "text": {"field": "txt"}}
},
{
"data": {"values": [{"m": 10, "t": 1.54, "txt": "October\n1.65°C"}]},
"mark": {"type": "text", "align": "left", "baseline": "alphabetic", "dx": 10, "fontSize": 23, "fontWeight": "bold", "font": "DejaVu Sans", "lineBreak": "\n", "lineHeight": 27, "color": "#a51c2d"},
"encoding": {"x": {"field": "m", "type": "ordinal", "title": null}, "y": {"field": "t", "type": "quantitative", "title": null}, "text": {"field": "txt"}}
},
{
"data": {"values": [{"m": 2, "t": 1.83, "txt": "2024"}]},
"mark": {"type": "text", "align": "center", "baseline": "alphabetic", "dx": 17, "fontSize": 23, "fontWeight": "bold", "font": "DejaVu Sans", "color": "#a51c2d"},
"encoding": {"x": {"field": "m", "type": "ordinal", "title": null}, "y": {"field": "t", "type": "quantitative", "title": null}, "text": {"field": "txt"}}
},
{
"data": {"values": [{"m": 12, "t": 1.83, "txt": "2023"}]},
"mark": {"type": "text", "align": "center", "baseline": "alphabetic", "dx": -122, "fontSize": 23, "fontWeight": "bold", "font": "DejaVu Sans", "color": "#f4900f"},
"encoding": {"x": {"field": "m", "type": "ordinal", "title": null}, "y": {"field": "t", "type": "quantitative", "title": null}, "text": {"field": "txt"}}
},
{
"data": {"name": "y2023"},
"mark": {"type": "line", "color": "#f4900f", "strokeWidth": 5, "point": {"filled": true, "size": 260, "color": "#f4900f"}},
"encoding": {"x": {"field": "m", "type": "ordinal", "title": null}, "y": {"field": "t", "type": "quantitative", "title": null}}
},
{
"data": {"name": "y2024"},
"mark": {"type": "line", "color": "#a51c2d", "strokeWidth": 5, "point": {"filled": true, "size": 260, "color": "#a51c2d"}},
"encoding": {"x": {"field": "m", "type": "ordinal", "title": null}, "y": {"field": "t", "type": "quantitative", "title": null}}
}
]
}
